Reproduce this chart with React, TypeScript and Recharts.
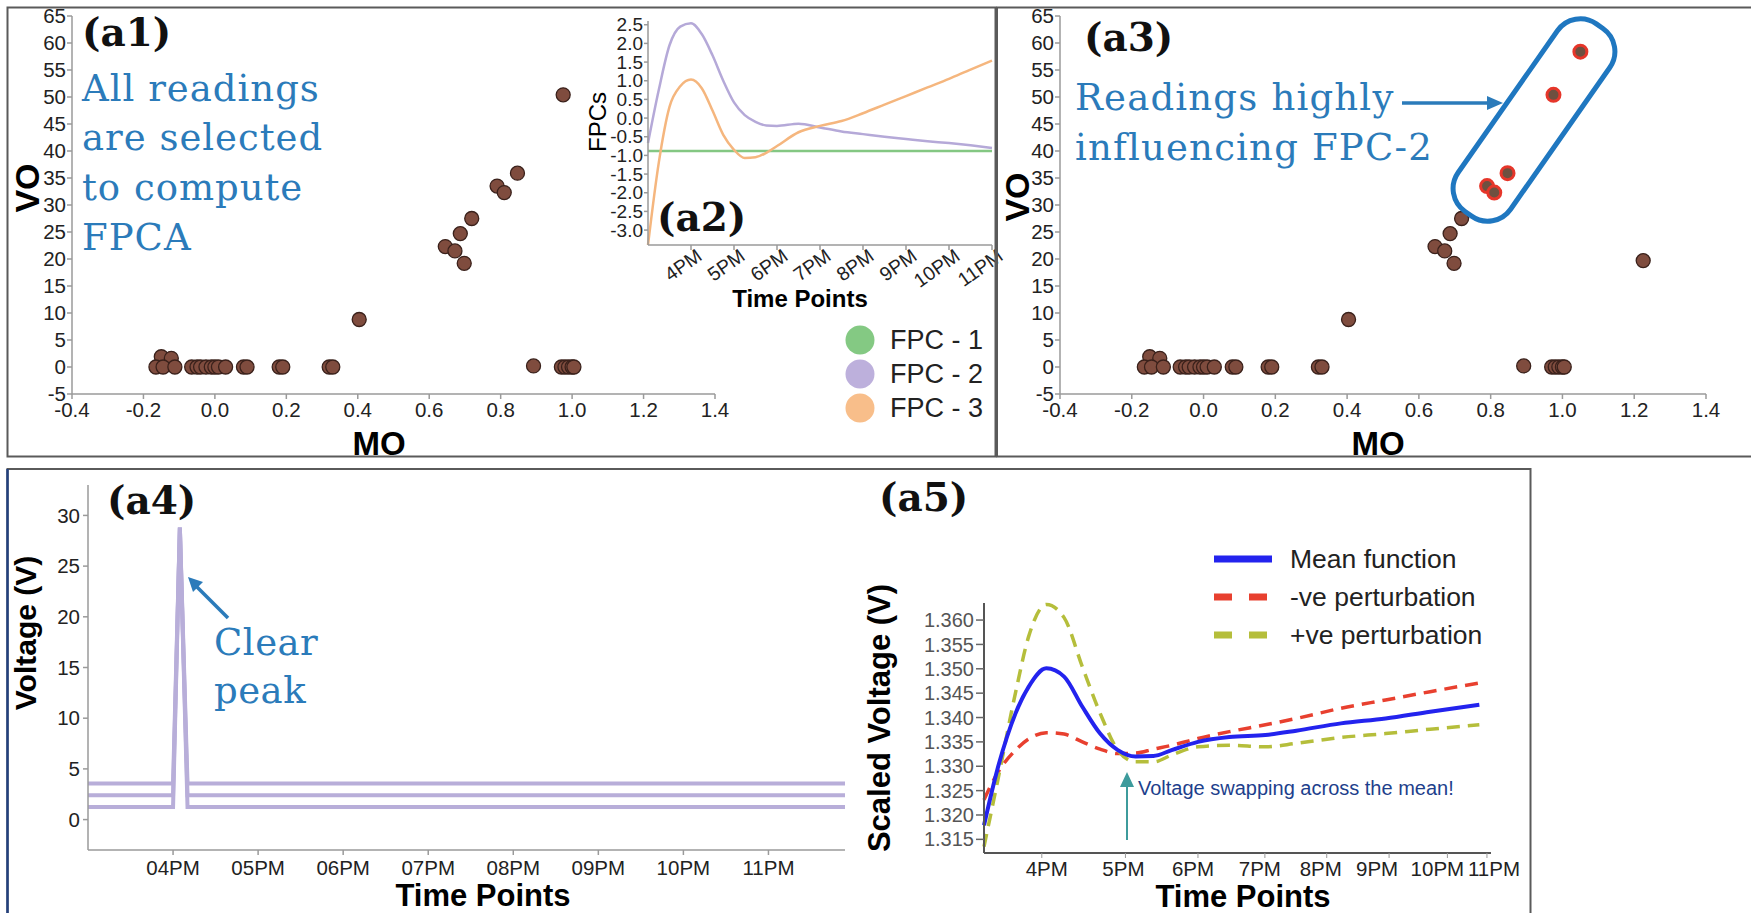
import React from 'react';
import { ScatterChart, Scatter, LineChart, Line, XAxis, YAxis } from 'recharts';

const SANS = "'Liberation Sans', Arial, Helvetica, sans-serif";
const SLAB = "'DejaVu Serif', Georgia, serif";
const NOTE = '#2b7bba';

// (a1) / (a3): readings projected on MO vs VO
const moVals = [
  1.05, 0.975, 0.847, 0.79, 0.81, 0.719, 0.687, 0.645, 0.672, 0.698, 1.225, 0.404, 0.892,
  0.97, 0.98, 0.99, 1.0, 1.005, 0.32, 0.33, 0.18, 0.19, 0.08, 0.09,
  -0.065, -0.05, -0.04, -0.025, -0.01, 0.0, 0.01, 0.03, -0.15, -0.122, -0.165, -0.145, -0.112,
];
const voVals = [
  58.4, 50.4, 35.9, 33.5, 32.3, 27.5, 24.7, 22.3, 21.5, 19.2, 19.7, 8.8, 0.2,
  0, 0, 0, 0, 0, 0, 0, 0, 0, 0, 0,
  0, 0, 0, 0, 0, 0, 0, 0, 1.9, 1.6, 0, 0, 0,
];
const influentialIdx = [0, 1, 2, 3, 4];
const moTicks = [-0.4, -0.2, 0, 0.2, 0.4, 0.6, 0.8, 1.0, 1.2, 1.4];
const voTicks = [-5, 0, 5, 10, 15, 20, 25, 30, 35, 40, 45, 50, 55, 60, 65];

// (a2): functional principal components
const fpcHours = [15, 15.25, 15.5, 15.75, 16, 16.25, 16.5, 16.75, 17, 17.25, 17.5, 17.75, 18, 18.5, 19, 19.5, 20, 20.5, 21, 21.5, 22, 22.5, 23];
const fpc1 = [-0.88, -0.88, -0.88, -0.88, -0.88, -0.88, -0.88, -0.88, -0.88, -0.88, -0.88, -0.88, -0.88, -0.88, -0.88, -0.88, -0.88, -0.88, -0.88, -0.88, -0.88, -0.88, -0.88];
const fpc2 = [-0.67, 0.75, 1.95, 2.45, 2.54, 2.25, 1.68, 1.0, 0.42, 0.08, -0.1, -0.2, -0.21, -0.15, -0.25, -0.36, -0.43, -0.5, -0.56, -0.62, -0.67, -0.73, -0.8];
const fpc3 = [-3.4, -1.2, 0.3, 0.85, 1.03, 0.8, 0.2, -0.45, -0.85, -1.07, -1.05, -0.93, -0.75, -0.38, -0.21, -0.08, 0.13, 0.36, 0.59, 0.82, 1.05, 1.3, 1.54];
const fpcTicks = [-3, -2.5, -2, -1.5, -1, -0.5, 0, 0.5, 1, 1.5, 2, 2.5];
const hourTicks = [16, 17, 18, 19, 20, 21, 22, 23];
const hourLabels = ['4PM', '5PM', '6PM', '7PM', '8PM', '9PM', '10PM', '11PM'];
const fpcNames = ['FPC - 1', 'FPC - 2', 'FPC - 3'];

// (a4): raw voltage readings with the spike
const rawHours = [15, 16.0, 16.08, 16.17, 23.9];
const rawHigh = [3.56, 3.56, 28.8, 3.56, 3.56];
const rawMid = [2.4, 2.4, 28.8, 2.4, 2.4];
const rawLow = [1.25, 1.25, 28.8, 1.25, 1.25];
const voltTicks = [0, 5, 10, 15, 20, 25, 30];
const rawTimeLabels = ['04PM', '05PM', '06PM', '07PM', '08PM', '09PM', '10PM', '11PM'];

// (a5): mean function and perturbations, x in axis units (the time axis is uneven)
const a5Pos = [0, 2.6, 6.2, 8.8, 12.3, 15.8, 19.4, 22.9, 26.4, 29.9, 33.4, 37.0, 42.2, 48.4, 55.5, 61.6, 70.4, 79.2, 88.0, 97.7];
const meanFn = [1.3179, 1.3292, 1.3408, 1.3463, 1.3501, 1.3484, 1.3422, 1.3367, 1.3333, 1.332, 1.3321, 1.3333, 1.335, 1.336, 1.3364, 1.3373, 1.3388, 1.3398, 1.3412, 1.3426];
const negPert = [1.3231, 1.3285, 1.3333, 1.3356, 1.3369, 1.3366, 1.335, 1.3335, 1.3326, 1.3327, 1.3335, 1.3343, 1.3357, 1.3371, 1.3385, 1.3398, 1.3419, 1.3436, 1.3453, 1.3471];
const posPert = [1.3135, 1.3265, 1.345, 1.3566, 1.3632, 1.3605, 1.3504, 1.3409, 1.3333, 1.3309, 1.3309, 1.3323, 1.334, 1.3343, 1.334, 1.3347, 1.3359, 1.3367, 1.3376, 1.3385];
const a5TickPos = [11.4, 27.9, 42.2, 55.4, 67.6, 79.9, 91.4, 99.2];
const a5LabelShift = [5, -2, -5, -5, -6, -12, -10, 7];
const scaledTicks = [1.315, 1.32, 1.325, 1.33, 1.335, 1.34, 1.345, 1.35, 1.355, 1.36];

const points = moVals.map((mo, i) => ({ mo, vo: voVals[i], hl: influentialIdx.includes(i) }));
const fpcRows = fpcHours.map((t, i) => ({ t, f1: fpc1[i], f2: fpc2[i], f3: fpc3[i] }));
const rawRows = rawHours.map((t, i) => ({ t, a: rawHigh[i], b: rawMid[i], c: rawLow[i] }));
const a5Rows = a5Pos.map((u, i) => ({ u, mean: meanFn[i], neg: negPert[i], pos: posPert[i] }));

const axisGray = { stroke: '#9a9a9a', strokeWidth: 1.5 };
const tickStyle = { fill: '#222', fontSize: 20.5, fontFamily: SANS };

function brownDot(showHl: boolean) {
  return (p: any) => {
    const hl = showHl && p.payload.hl;
    return (
      <circle
        cx={p.cx}
        cy={p.cy}
        r={hl ? 6.5 : 7}
        fill={hl ? '#6e5040' : '#7f4c3e'}
        stroke={hl ? '#e6362a' : '#3a211b'}
        strokeWidth={hl ? 3 : 1.3}
      />
    );
  };
}

function MoVoScatter({ w, left, yw, right, showHl }: { w: number; left: number; yw: number; right: number; showHl: boolean }) {
  return (
    <ScatterChart width={w} height={458} margin={{ top: 16, right, bottom: 14, left }}>
      <XAxis
        type="number"
        dataKey="mo"
        domain={[-0.4, 1.4]}
        ticks={moTicks}
        interval={0}
        height={50}
        tickFormatter={(v: number) => v.toFixed(1)}
        axisLine={axisGray}
        tickLine={axisGray}
        tickSize={5}
        tickMargin={3}
        tick={tickStyle}
      />
      <YAxis
        type="number"
        dataKey="vo"
        domain={[-5, 65]}
        ticks={voTicks}
        interval={0}
        width={yw}
        axisLine={axisGray}
        tickLine={axisGray}
        tickSize={5}
        tickMargin={1}
        tick={tickStyle}
      />
      <Scatter data={points} shape={brownDot(showHl)} isAnimationActive={false} />
    </ScatterChart>
  );
}

function SlantTick(props: any) {
  const { x, y, payload } = props;
  const ax = x + 4;
  const ay = y - 5;
  return (
    <text x={ax} y={ay} dy="0.75em" textAnchor="end" transform={`rotate(-35 ${ax} ${ay})`} fontSize={19.5} fill="#222" fontFamily={SANS}>
      {hourLabels[hourTicks.indexOf(payload.value)]}
    </text>
  );
}

function A5Tick(props: any) {
  const { x, y, payload } = props;
  const i = a5TickPos.indexOf(payload.value);
  return (
    <text x={x + a5LabelShift[i]} y={y} dy="0.8em" textAnchor="middle" fontSize={20.5} fill="#222" fontFamily={SANS}>
      {hourLabels[i]}
    </text>
  );
}

function FpcInset() {
  return (
    <LineChart width={430} height={310} data={fpcRows} margin={{ top: 21, right: 13, bottom: 5, left: 25 }}>
      <XAxis type="number" dataKey="t" domain={[15, 23]} ticks={hourTicks} interval={0} height={60} axisLine={axisGray} tickLine={axisGray} tickSize={5} tick={<SlantTick />} />
      <YAxis
        type="number"
        domain={[-3.4, 2.6]}
        ticks={fpcTicks}
        interval={0}
        width={48}
        allowDataOverflow
        tickFormatter={(v: number) => v.toFixed(1)}
        axisLine={axisGray}
        tickLine={axisGray}
        tickSize={4}
        tickMargin={1}
        tick={{ fill: '#222', fontSize: 19, fontFamily: SANS }}
      />
      <Line dataKey="f1" type="monotone" stroke="#84c783" strokeWidth={2.5} dot={false} isAnimationActive={false} />
      <Line dataKey="f2" type="monotone" stroke="#b5a9d8" strokeWidth={2.5} dot={false} isAnimationActive={false} />
      <Line dataKey="f3" type="monotone" stroke="#f5b67e" strokeWidth={2.5} dot={false} isAnimationActive={false} />
    </LineChart>
  );
}

function RawVoltage() {
  return (
    <LineChart width={860} height={443} data={rawRows} margin={{ top: 15, right: 23, bottom: 13, left: 30 }}>
      <XAxis
        type="number"
        dataKey="t"
        domain={[15, 23.9]}
        ticks={hourTicks}
        interval={0}
        height={50}
        tickFormatter={(v: number) => rawTimeLabels[hourTicks.indexOf(v)]}
        axisLine={axisGray}
        tickLine={axisGray}
        tickSize={5}
        tickMargin={5}
        tick={{ fill: '#222', fontSize: 20.5, fontFamily: SANS }}
      />
      <YAxis
        type="number"
        domain={[-3, 33]}
        ticks={voltTicks}
        interval={0}
        width={50}
        axisLine={axisGray}
        tickLine={axisGray}
        tickSize={5}
        tickMargin={3}
        tick={{ fill: '#222', fontSize: 20.5, fontFamily: SANS }}
      />
      <Line dataKey="a" type="linear" stroke="#b8aed9" strokeWidth={4} dot={false} isAnimationActive={false} />
      <Line dataKey="b" type="linear" stroke="#b8aed9" strokeWidth={4} dot={false} isAnimationActive={false} />
      <Line dataKey="c" type="linear" stroke="#b8aed9" strokeWidth={4} dot={false} isAnimationActive={false} />
    </LineChart>
  );
}

function Perturbation() {
  const dark = { stroke: '#555', strokeWidth: 2 };
  return (
    <LineChart width={660} height={443} data={a5Rows} margin={{ top: 133, right: 29, bottom: 10, left: 54 }}>
      <XAxis type="number" dataKey="u" domain={[0, 100]} ticks={a5TickPos} interval={0} height={50} axisLine={dark} tickLine={{ stroke: '#999' }} tickSize={5} tick={<A5Tick />} />
      <YAxis
        type="number"
        domain={[1.3122, 1.3635]}
        ticks={scaledTicks}
        interval={0}
        width={70}
        tickFormatter={(v: number) => v.toFixed(3)}
        axisLine={dark}
        tickLine={{ stroke: '#666', strokeWidth: 1.5 }}
        tickSize={8}
        tickMargin={2}
        tick={{ fill: '#555', fontSize: 20, fontFamily: SANS }}
      />
      <Line dataKey="neg" type="monotone" stroke="#e8402f" strokeWidth={3.5} strokeDasharray="13 8" dot={false} isAnimationActive={false} />
      <Line dataKey="pos" type="monotone" stroke="#b5be3b" strokeWidth={3.5} strokeDasharray="13 8" dot={false} isAnimationActive={false} />
      <Line dataKey="mean" type="monotone" stroke="#2323ee" strokeWidth={4} dot={false} isAnimationActive={false} />
    </LineChart>
  );
}

const at = (left: number, top: number): React.CSSProperties => ({ position: 'absolute', left, top });

export default function App() {
  const legendColors = ['#84c983', '#bdb0dc', '#f8be8a'];
  return (
    <div style={{ position: 'absolute', left: 0, top: 0, width: 1751, height: 913, background: '#fff', overflow: 'hidden', fontFamily: SANS }}>
      <div style={at(0, 0)}>
        <MoVoScatter w={745} left={22} yw={50} right={30} showHl={false} />
      </div>
      <div style={{ ...at(576, 9), width: 418, height: 300, background: '#fff' }} />
      <div style={at(575, 0)}>
        <FpcInset />
      </div>
      <div style={at(997, 0)}>
        <MoVoScatter w={740} left={20} yw={43} right={31} showHl={true} />
      </div>
      <div style={at(8, 470)}>
        <RawVoltage />
      </div>
      <div style={at(860, 470)}>
        <Perturbation />
      </div>

      <svg width={1751} height={913} style={{ ...at(0, 0), pointerEvents: 'none' }}>
        {/* panel frames */}
        <rect x={7.5} y={7.5} width={988} height={449} fill="none" stroke="#5a5a5a" strokeWidth={2} />
        <rect x={997} y={7.5} width={770} height={449} fill="none" stroke="#5a5a5a" strokeWidth={2} />
        <rect x={7.5} y={469} width={1523} height={460} fill="none" stroke="#5a5a5a" strokeWidth={2} />
        <line x1={7.5} y1={469} x2={7.5} y2={913} stroke="#23407e" strokeWidth={2.5} />

        {/* axis titles */}
        <text x={27} y={188} transform="rotate(-90 27 188)" textAnchor="middle" dominantBaseline="central" fontSize={34} fontWeight="bold">VO</text>
        <text x={379} y={443} textAnchor="middle" dominantBaseline="central" fontSize={33} fontWeight="bold">MO</text>
        <text x={1017} y={197} transform="rotate(-90 1017 197)" textAnchor="middle" dominantBaseline="central" fontSize={34} fontWeight="bold">VO</text>
        <text x={1378} y={443} textAnchor="middle" dominantBaseline="central" fontSize={33} fontWeight="bold">MO</text>
        <text x={800} y={298} textAnchor="middle" dominantBaseline="central" fontSize={24} fontWeight="bold">Time Points</text>
        <text x={597} y={122} transform="rotate(-90 597 122)" textAnchor="middle" dominantBaseline="central" fontSize={24}>FPCs</text>
        <text x={25} y={633} transform="rotate(-90 25 633)" textAnchor="middle" dominantBaseline="central" fontSize={30} fontWeight="bold">Voltage (V)</text>
        <text x={483} y={895} textAnchor="middle" dominantBaseline="central" fontSize={31} fontWeight="bold">Time Points</text>
        <text x={879} y={718} transform="rotate(-90 879 718)" textAnchor="middle" dominantBaseline="central" fontSize={31} fontWeight="bold">Scaled Voltage (V)</text>
        <text x={1243} y={896} textAnchor="middle" dominantBaseline="central" fontSize={31} fontWeight="bold">Time Points</text>

        {/* panel tags */}
        {[
          ['(a1)', 82, 32],
          ['(a2)', 657, 217],
          ['(a3)', 1084, 37],
          ['(a4)', 107, 500],
          ['(a5)', 879, 497],
        ].map(([t, x, y]) => (
          <text key={t as string} x={x as number} y={y as number} dominantBaseline="central" fontSize={39} fontWeight="bold" fontFamily={SLAB} fill="#111">
            {t}
          </text>
        ))}

        {/* blue notes */}
        {['All readings', 'are selected', 'to compute', 'FPCA'].map((s, i) => (
          <text key={s} x={82} y={88 + i * 49.7} dominantBaseline="central" fontSize={37} fontFamily={SLAB} fill={NOTE} letterSpacing={1}>
            {s}
          </text>
        ))}
        {['Readings highly', 'influencing FPC-2'].map((s, i) => (
          <text key={s} x={1075} y={97 + i * 50} dominantBaseline="central" fontSize={37} fontFamily={SLAB} fill={NOTE} letterSpacing={1.2}>
            {s}
          </text>
        ))}
        {['Clear', 'peak'].map((s, i) => (
          <text key={s} x={214} y={642 + i * 48} dominantBaseline="central" fontSize={37} fontFamily={SLAB} fill={NOTE} letterSpacing={0.5}>
            {s}
          </text>
        ))}
        <line x1={1402} y1={103} x2={1490} y2={103} stroke={NOTE} strokeWidth={3.5} />
        <polygon points="1503,103 1487,96 1487,110" fill={NOTE} />
        <rect x={-114.5} y={-32} width={229} height={64} rx={28} transform="translate(1534 120) rotate(-55)" fill="none" stroke="#1f77c0" strokeWidth={5} />
        <line x1={228} y1={618} x2={197} y2={587} stroke={NOTE} strokeWidth={3.5} />
        <polygon points="188,577 203,582 193,592" fill={NOTE} />

        {/* FPC legend */}
        {fpcNames.map((n, i) => (
          <g key={n}>
            <circle cx={860} cy={340 + i * 34} r={14.5} fill={legendColors[i]} />
            <text x={890} y={340 + i * 34} dominantBaseline="central" fontSize={27} fill="#222">{n}</text>
          </g>
        ))}

        {/* (a5) legend */}
        <line x1={1214} y1={559} x2={1272} y2={559} stroke="#2323ee" strokeWidth={7} />
        <line x1={1214} y1={597} x2={1270} y2={597} stroke="#e8402f" strokeWidth={7} strokeDasharray="18 17" />
        <line x1={1214} y1={635} x2={1270} y2={635} stroke="#b5be3b" strokeWidth={7} strokeDasharray="18 17" />
        <text x={1290} y={559} dominantBaseline="central" fontSize={26.5} fill="#222">Mean function</text>
        <text x={1290} y={597} dominantBaseline="central" fontSize={26.5} fill="#222">-ve perturbation</text>
        <text x={1290} y={635} dominantBaseline="central" fontSize={26.5} fill="#222">+ve perturbation</text>

        {/* (a5) note */}
        <line x1={1127} y1={840} x2={1127} y2={784} stroke="#3d9b9c" strokeWidth={2} />
        <polygon points="1127,772 1120,787 1134,787" fill="#3d9b9c" />
        <text x={1138} y={788} dominantBaseline="central" fontSize={20} fill="#1e3f8c">Voltage swapping across the mean!</text>
      </svg>
    </div>
  );
}
